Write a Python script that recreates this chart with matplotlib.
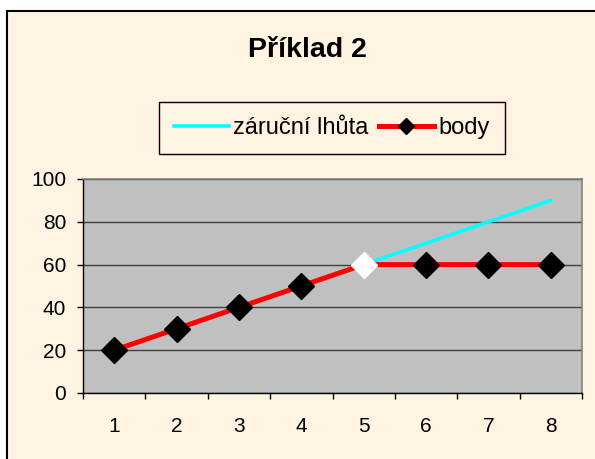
import matplotlib
matplotlib.use("Agg")
import matplotlib.pyplot as plt
from matplotlib.lines import Line2D
from matplotlib.patches import Rectangle

plt.rcParams['font.family'] = ['Liberation Sans', 'DejaVu Sans']

# data
kategorie = [1, 2, 3, 4, 5, 6, 7, 8]
zarucni_lhuta = [20, 30, 40, 50, 60, 70, 80, 90]
body = [20, 30, 40, 50, 60, 60, 60, 60]
bily_bod = 5  # the point drawn with a white marker

cream = '#FFF3E1'

fig = plt.figure(figsize=(5.95, 4.59), dpi=100)
fig.patch.set_facecolor('white')

# chart frame (cropped on right and bottom like the reference)
frame = Rectangle((7 / 595, -0.1), 1.2, (459 - 11) / 459 + 0.1,
                  transform=fig.transFigure, facecolor=cream,
                  edgecolor='black', linewidth=1.5, zorder=-10)
fig.add_artist(frame)

ax = fig.add_axes([83 / 595, 1 - 393 / 459, (582 - 83) / 595, (393 - 179) / 459])
ax.set_facecolor('#C0C0C0')

ax.plot(kategorie, zarucni_lhuta, color='cyan', lw=2.6, zorder=3,
        solid_capstyle='round')
ax.plot(kategorie, body, color='red', lw=3.6, zorder=4)
i = kategorie.index(bily_bod)
ax.plot([k for k in kategorie if k != bily_bod], [b for k, b in zip(kategorie, body) if k != bily_bod],
        ls='none', marker='D', ms=13, color='black', zorder=5)
ax.plot([kategorie[i]], [body[i]], ls='none', marker='D', ms=13,
        color='white', zorder=5)

ax.set_xlim(0.5, 8.5)
ax.set_ylim(0, 100)
ax.set_yticks([0, 20, 40, 60, 80, 100])
ax.yaxis.grid(True, color='#404040', lw=1)
ax.set_axisbelow(True)

ax.set_xticks(kategorie)
ax.set_xticks([k + 0.5 for k in [0] + kategorie], minor=True)
ax.tick_params(axis='x', which='major', length=0, pad=17, labelsize=15)
ax.tick_params(axis='x', which='minor', length=4.3, width=1, color='black')
ax.tick_params(axis='y', length=4, width=1, pad=8, labelsize=15)

for s in ['top', 'right']:
    ax.spines[s].set_color('#808080')
    ax.spines[s].set_linewidth(1.2)
for s in ['left', 'bottom']:
    ax.spines[s].set_color('black')
    ax.spines[s].set_linewidth(1)

fig.text(0.516, 1 - 50 / 459, 'Příklad 2', ha='center', va='center',
         fontsize=20.5, fontweight='bold')

handles = [Line2D([], [], color='cyan', lw=2.6),
           Line2D([], [], color='red', lw=3.6, marker='D', ms=8,
                  markerfacecolor='black', markeredgecolor='black')]
leg = fig.legend(handles, ['záruční lhůta', 'body'], loc='center',
                 bbox_to_anchor=(0.558, 1 - 128 / 459), ncol=2,
                 fontsize=17, handlelength=2.3, handletextpad=0.2,
                 columnspacing=0.45, borderpad=0.65, fancybox=False,
                 frameon=True, framealpha=1, borderaxespad=0)
leg.get_frame().set_facecolor(cream)
leg.get_frame().set_edgecolor('black')
leg.get_frame().set_linewidth(1)

fig.savefig('out.png', dpi=100, facecolor=fig.get_facecolor())
